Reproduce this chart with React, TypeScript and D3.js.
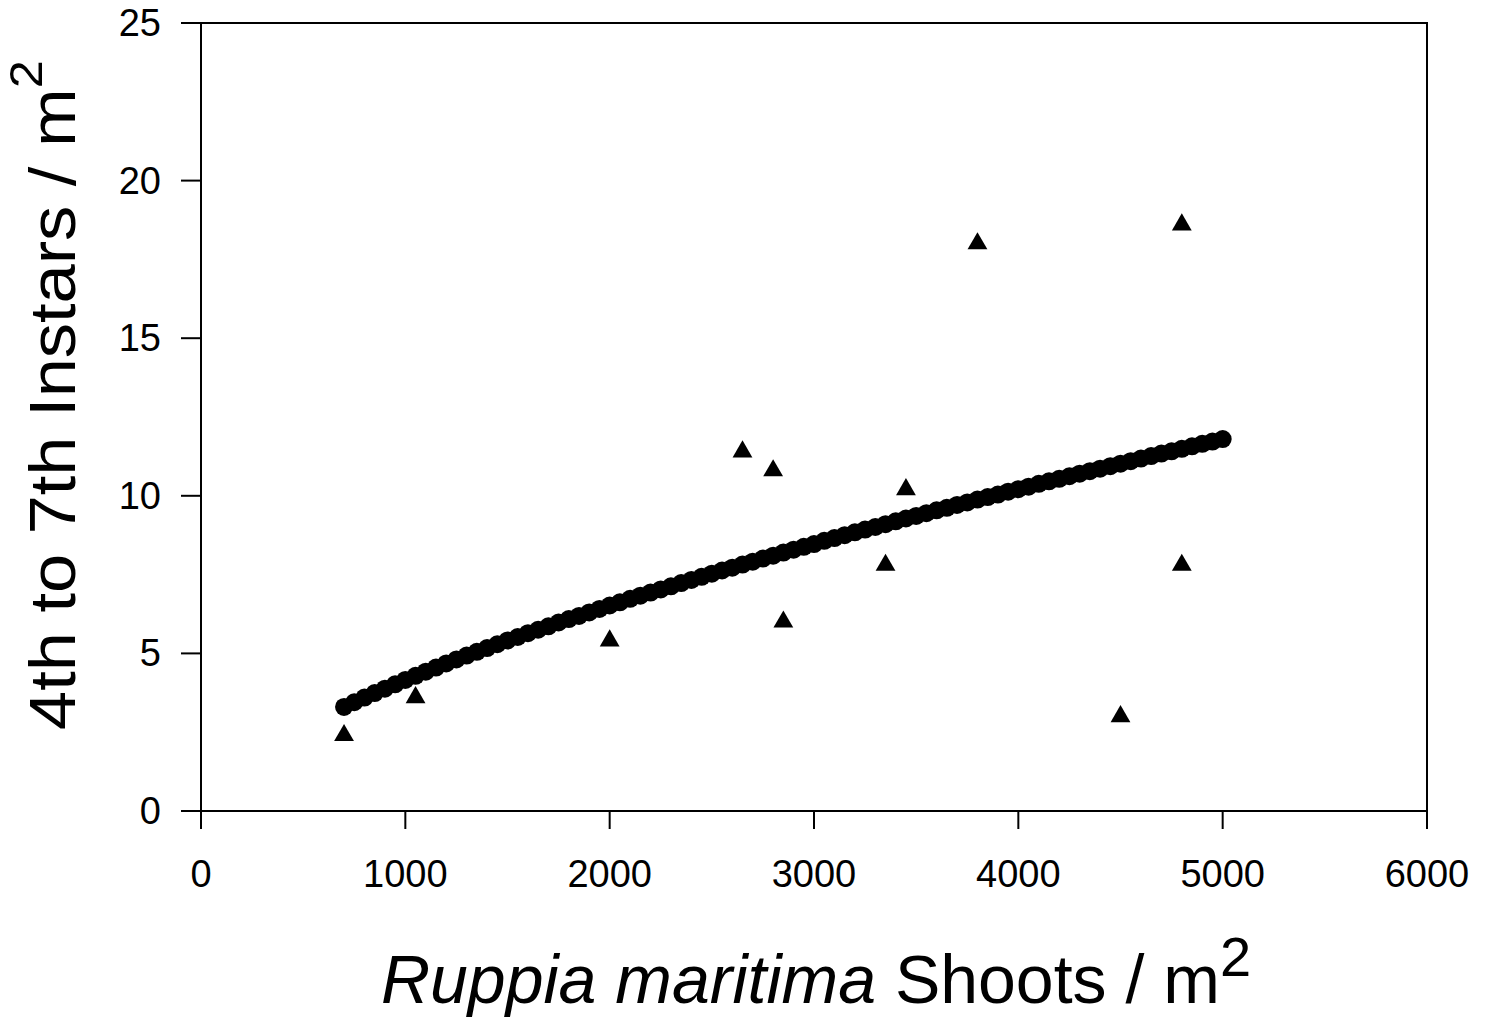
import React from "react";
import * as d3 from "d3";

const xTicks = [0, 1000, 2000, 3000, 4000, 5000, 6000];
const yTicks = [0, 5, 10, 15, 20, 25];

// observed instar densities (triangles)
const obsShoots = [700, 1050, 2000, 2650, 2800, 2850, 3350, 3450, 3800, 4500, 4800, 4800];
const obsInstars = [2.4, 3.6, 5.4, 11.4, 10.8, 6.0, 7.8, 10.2, 18.0, 3.0, 18.6, 7.8];

// fitted curve (dots every 50 shoots from 700 to 5000)
const fitShoots = d3.range(700, 5001, 50);
const fitInstars = [
  3.30, 3.45, 3.60, 3.74, 3.88, 4.02, 4.16, 4.29, 4.42, 4.55,
  4.68, 4.81, 4.93, 5.05, 5.17, 5.29, 5.41, 5.52, 5.64, 5.75,
  5.86, 5.98, 6.09, 6.19, 6.30, 6.41, 6.52, 6.62, 6.73, 6.83,
  6.93, 7.03, 7.13, 7.23, 7.33, 7.43, 7.53, 7.63, 7.72, 7.82,
  7.91, 8.01, 8.10, 8.20, 8.29, 8.38, 8.47, 8.57, 8.66, 8.75,
  8.84, 8.93, 9.01, 9.10, 9.19, 9.28, 9.36, 9.45, 9.54, 9.62,
  9.71, 9.79, 9.88, 9.96, 10.04, 10.13, 10.21, 10.29, 10.38, 10.46,
  10.54, 10.62, 10.70, 10.78, 10.86, 10.94, 11.02, 11.10, 11.18, 11.26,
  11.34, 11.41, 11.49, 11.57, 11.65, 11.72, 11.80,
];

const W = 1491;
const H = 1029;
const left = 201;
const right = 1427;
const top = 23;
const bottom = 811;

export default function App() {
  const x = d3.scaleLinear().domain([0, 6000]).range([left, right]);
  const y = d3.scaleLinear().domain([0, 25]).range([bottom, top]);
  const tri = d3.symbol().type(d3.symbolTriangle).size(170)();
  const font = "Liberation Sans, Arial, Helvetica, sans-serif";

  return (
    <svg
      width={W}
      height={H}
      style={{ position: "absolute", left: 0, top: 0, background: "#fff" }}
      fontFamily={font}
    >
      {/* frame */}
      <rect x={left} y={top} width={right - left} height={bottom - top} fill="none" stroke="#000" strokeWidth={2} />
      {/* y ticks */}
      {yTicks.map((t) => (
        <g key={"y" + t}>
          <line x1={left - 20} x2={left} y1={y(t)} y2={y(t)} stroke="#000" strokeWidth={2} />
          <text x={161} y={y(t)} textAnchor="end" dominantBaseline="central" fontSize={38} fill="#000">
            {t}
          </text>
        </g>
      ))}
      {/* x ticks */}
      {xTicks.map((t) => (
        <g key={"x" + t}>
          <line x1={x(t)} x2={x(t)} y1={bottom} y2={bottom + 18} stroke="#000" strokeWidth={2} />
          <text x={x(t)} y={887} textAnchor="middle" fontSize={38} fill="#000">
            {t}
          </text>
        </g>
      ))}
      {/* fitted curve */}
      {fitShoots.map((s, i) => (
        <circle key={"f" + i} cx={x(s)} cy={y(fitInstars[i])} r={9} fill="#000" />
      ))}
      {/* observations */}
      {obsShoots.map((s, i) => (
        <path key={"o" + i} d={tri || ""} transform={`translate(${x(s)},${y(obsInstars[i])})`} fill="#000" />
      ))}
      {/* x title */}
      <text x={816} y={1003} textAnchor="middle" fontSize={68} fill="#000">
        <tspan fontStyle="italic">Ruppia maritima</tspan>
        <tspan> Shoots / m</tspan>
        <tspan fontSize={56} dy={-27}>2</tspan>
      </text>
      {/* y title */}
      <text
        transform={`translate(75, 730) rotate(-90) scale(1.1, 1)`}
        textAnchor="start"
        fontSize={64}
        fill="#000"
      >
        <tspan>4th to 7th Instars / m</tspan>
        <tspan fontSize={46} dy={-33}>2</tspan>
      </text>
    </svg>
  );
}
